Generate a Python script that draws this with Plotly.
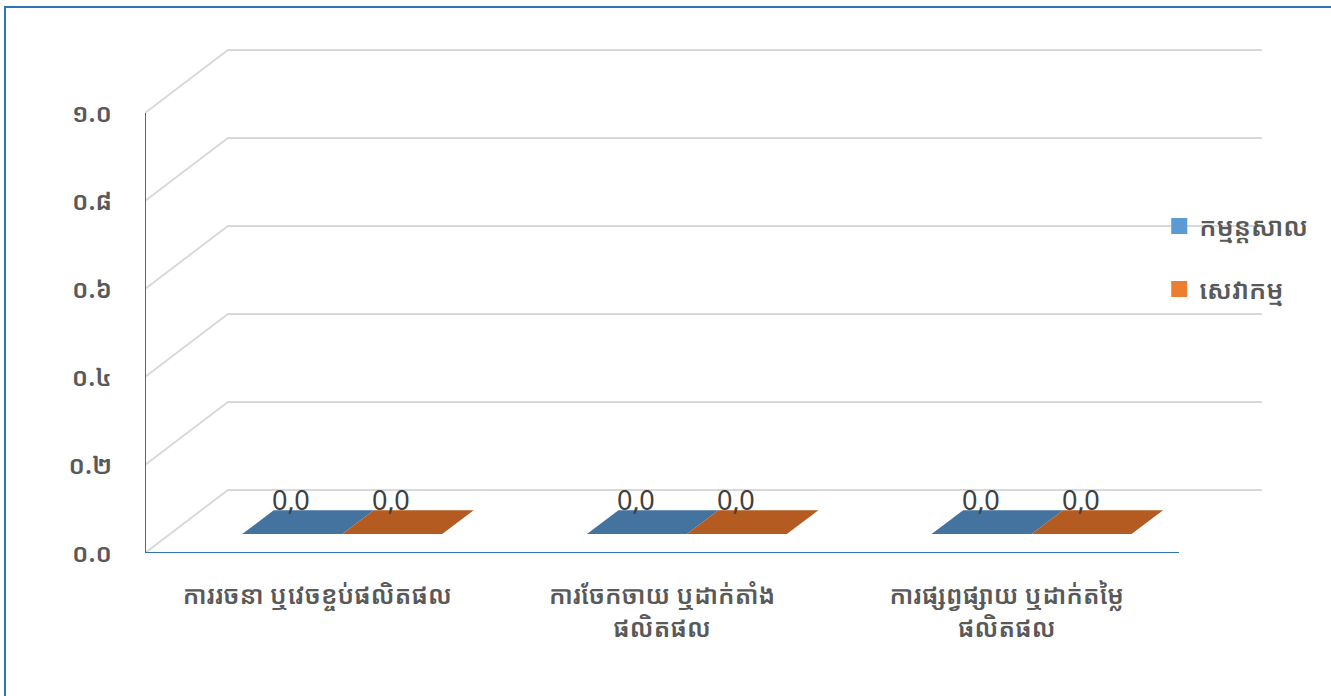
import plotly.graph_objects as go

# ---------------- data ----------------
categories = [
    "ការរចនា ឬវេចខ្ចប់ផលិតផល",
    "ការចែកចាយ ឬដាក់តាំង<br>ផលិតផល",
    "ការផ្សព្វផ្សាយ ឬដាក់តម្លៃ<br>ផលិតផល",
]
series_names = ["កម្មន្តសាល", "សេវាកម្ម"]
manufacturing = [0.0, 0.0, 0.0]
services = [0.0, 0.0, 0.0]
ytick_vals = [0.0, 0.2, 0.4, 0.6, 0.8, 1.0]
ytick_text = ["០.០", "០.២", "០.៤", "០.៦", "០.៨", "១.០"]

series_values = [manufacturing, services]
legend_colors = ["#5B9BD5", "#ED7D31"]
face_colors = ["#44739F", "#B35B20"]

# ---------------- 3-D look parameters ----------------
DX = 0.2406   # depth offset in category units
DY = 0.1432   # depth offset in value units
BAR_W = 0.29
D0, D1 = 0.30, 0.68
GRID = "#D9D9D9"
AXIS = "#2E75B6"
FONT = "Noto Sans Khmer, Khmer OS, Noto Sans, DejaVu Sans, sans-serif"

n = len(categories)
x_idx = list(range(n))

fig = go.Figure()

# back wall gridlines + diagonals on the side wall
gx, gy = [], []
for v in ytick_vals:
    gx += [-0.5, -0.5 + DX, n - 0.5 + DX, None]
    gy += [v, v + DY, v + DY, None]
fig.add_trace(go.Scatter(x=gx, y=gy, mode="lines", line=dict(color=GRID, width=2),
                         hoverinfo="skip", showlegend=False))

# front axes (value axis + category axis)
fig.add_trace(go.Scatter(x=[-0.5, -0.5, n - 0.5], y=[ytick_vals[-1], 0, 0], mode="lines",
                         line=dict(color=AXIS, width=2), hoverinfo="skip", showlegend=False))

# bars (flat 3-D boxes)
annotations = []
for s, vals in enumerate(series_values):
    px, py = [], []
    for i, v in zip(x_idx, vals):
        xl = i - BAR_W + s * BAR_W
        xr = xl + BAR_W
        # top face
        px += [xl + D0 * DX, xr + D0 * DX, xr + D1 * DX, xl + D1 * DX, None]
        py += [v + D0 * DY, v + D0 * DY, v + D1 * DY, v + D1 * DY, None]
        if v > 0:
            px += [xl + D0 * DX, xr + D0 * DX, xr + D0 * DX, xl + D0 * DX, None]
            py += [D0 * DY, D0 * DY, v + D0 * DY, v + D0 * DY, None]
        annotations.append(dict(
            x=xl + BAR_W / 2 + 0.29 * DX, y=v + D1 * DY, xref="x", yref="y",
            text=f"{v:.1f}".replace(".", ","), showarrow=False, yanchor="bottom",
            yshift=-10, font=dict(size=27, color="#404040", family=FONT)))
    fig.add_trace(go.Scatter(x=px, y=py, fill="toself", mode="none",
                             fillcolor=face_colors[s], hoverinfo="skip", showlegend=False))

# legend entries
for s, name in enumerate(series_names):
    fig.add_trace(go.Scatter(x=[None], y=[None], mode="markers", name=name,
                             marker=dict(symbol="square", size=22, color=legend_colors[s]),
                             legendgroup=name))

fig.update_layout(
    width=1331, height=696,
    margin=dict(l=145, r=69, t=49, b=143),
    paper_bgcolor="white", plot_bgcolor="white",
    font=dict(family=FONT, color="#595959"),
    xaxis=dict(range=[-0.5, n - 0.5 + DX], tickvals=x_idx, ticktext=categories,
               showgrid=False, zeroline=False, showline=False, ticks="",
               tickfont=dict(size=25, color="#595959", weight=600), ticklabelstandoff=25),
    yaxis=dict(range=[0, 504 / 440], tickvals=ytick_vals, ticktext=ytick_text,
               showgrid=False, zeroline=False, showline=False, ticks="",
               tickfont=dict(size=25, color="#595959", weight=600), ticklabelstandoff=32),
    legend=dict(x=0.908, y=0.695, xanchor="left", yanchor="top",
                font=dict(size=26, color="#595959", weight=600), tracegroupgap=26,
                itemwidth=30, bgcolor="rgba(0,0,0,0)"),
    annotations=annotations,
    shapes=[dict(type="rect", xref="paper", yref="paper",
                 x0=(5 - 145) / 1117, x1=(1345 - 145) / 1117,
                 y0=(553 - 720) / 504, y1=(553 - 7) / 504,
                 line=dict(color=AXIS, width=2), layer="below")],
)

fig.write_html("out.html", config={"displayModeBar": False},
               post_script="document.body.style.margin='0';")
